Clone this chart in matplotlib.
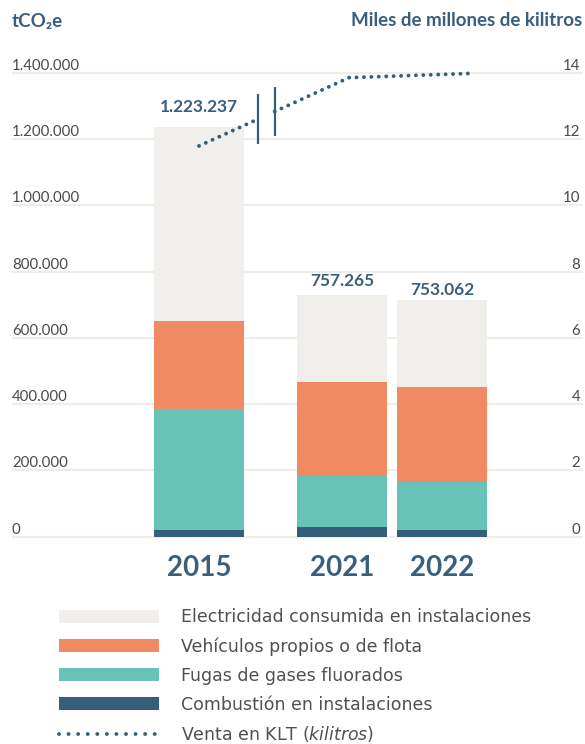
import numpy as np
import matplotlib.pyplot as plt
from matplotlib.lines import Line2D

plt.rcParams['font.family'] = ['Lato', 'DejaVu Sans']

# data
years = ['2015', '2021', '2022']
x_pos = [0.0, 1.43, 2.43]
total_labels = ['1.223.237', '757.265', '753.062']

combustion = [19600, 28700, 19600]
fugas = [366000, 157800, 144800]
vehiculos = [264600, 279700, 286600]
electricidad = [586200, 262500, 262500]

klt_x = [0.0, 1.50, 2.73]
klt_y = [11.79, 13.85, 13.98]
break_x = [0.593, 0.757]

left_ticks = list(range(0, 1400001, 200000))
right_ticks = list(range(0, 15, 2))

# colours
c_elec = '#f0efeb'
c_veh = '#f08a63'
c_fug = '#67c2b8'
c_comb = '#355e78'
c_text = '#3a5f7c'
c_grey = '#4a4a4a'
c_grid = '#eeede9'

fig = plt.figure(figsize=(5.85, 7.44), dpi=100)
ax = fig.add_axes([0.0205, 0.2746, 0.9761, 0.6317])

series = [
    ('Combustión en instalaciones', combustion, c_comb),
    ('Fugas de gases fluorados', fugas, c_fug),
    ('Vehículos propios o de flota', vehiculos, c_veh),
    ('Electricidad consumida en instalaciones', electricidad, c_elec),
]
bottom = np.zeros(len(years))
handles = {}
for name, vals, col in series:
    handles[name] = ax.bar(x_pos, vals, 0.9, bottom=bottom, color=col,
                           label=name, zorder=2, linewidth=0)
    bottom += np.array(vals)

# totals on top of the bars
label_offsets = [10.4, 6.7, 3.8]
for xp, top, txt, off in zip(x_pos, bottom, total_labels, label_offsets):
    ax.annotate(txt, (xp, top), xytext=(0, off), textcoords='offset points',
                ha='center', va='baseline', fontsize=12.4, fontweight='bold',
                color=c_text)

ax.set_xlim(-1.87, 3.84)
ax.set_ylim(-9050, 1409050)
ax.set_yticks(left_ticks, [f'{v:,}'.replace(',', '.') for v in left_ticks])
ax.yaxis.grid(True, color=c_grid, linewidth=1.6)
ax.set_axisbelow(True)
ax.tick_params(axis='y', length=0, pad=0, labelsize=10.8, labelcolor=c_grey)
for lab in ax.get_yticklabels():
    lab.set_ha('left')
    lab.set_va('bottom')
ax.set_xticks(x_pos, years)
ax.tick_params(axis='x', length=0, pad=11, labelsize=20, labelcolor=c_text)
for lab in ax.get_xticklabels():
    lab.set_fontweight('bold')
for s in ax.spines.values():
    s.set_visible(False)

# right axis: sales in KLT
ax2 = ax.twinx()
ax2.set_ylim(-0.0905, 14.0905)
ax2.set_yticks(right_ticks, [str(v) for v in right_ticks])
ax2.tick_params(axis='y', length=0, pad=-2, labelsize=10.8, labelcolor=c_grey)
for lab in ax2.get_yticklabels():
    lab.set_ha('right')
    lab.set_va('bottom')
for s in ax2.spines.values():
    s.set_visible(False)

dot_style = dict(color=c_comb, linewidth=2.8, linestyle=(0, (0.01, 1.9)),
                 dash_capstyle='round')
seg1_x = [klt_x[0], break_x[0]]
seg2_x = [break_x[1]] + klt_x[1:]
ax2.plot(seg1_x, np.interp(seg1_x, klt_x, klt_y), **dot_style)
ax2.plot(seg2_x, np.interp(seg2_x, klt_x, klt_y), **dot_style)
for bx in break_x:
    yb = np.interp(bx, klt_x, klt_y)
    ax2.plot([bx, bx], [yb - 0.745, yb + 0.745], color=c_comb, linewidth=1.6,
             solid_capstyle='butt')

# axis titles
fig.text(12 / 585, 1 - 27 / 744, 'tCO₂e', ha='left', va='baseline',
         fontsize=13.5, fontweight='bold', color=c_text)
fig.text(582 / 585, 1 - 26 / 744, 'Miles de millones de kilitros', ha='right',
         va='baseline', fontsize=13.5, fontweight='bold', color=c_text)

# legend
klt_handle = Line2D([], [], color=c_comb, linewidth=2.8,
                    linestyle=(0, (0.01, 2.45)), dash_capstyle='round')
order = [series[3][0], series[2][0], series[1][0], series[0][0]]
leg_handles = [handles[n] for n in order] + [klt_handle]
leg_labels = order + ['Venta en KLT ($\\it{kilitros}$)']
leg = fig.legend(leg_handles, leg_labels, loc='upper left',
                 bbox_to_anchor=(59 / 585, 1 - 608.5 / 744), frameon=False,
                 borderpad=0, borderaxespad=0,
                 prop={'family': 'DejaVu Sans', 'size': 12.5},
                 handlelength=5.75, handleheight=0.74, handletextpad=1.3,
                 labelspacing=0.625)
for t in leg.get_texts():
    t.set_color('#505050')

fig.savefig('out.png', dpi=100)
